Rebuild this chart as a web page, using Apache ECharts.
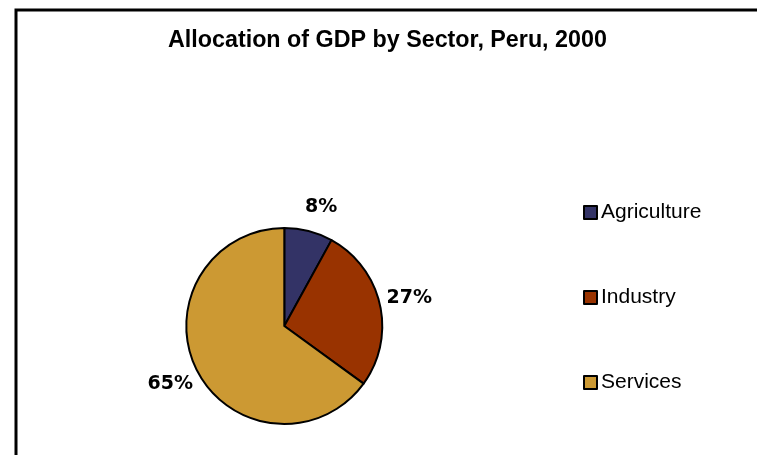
<!DOCTYPE html>
<html>
<head>
<meta charset="utf-8">
<script src="https://cdn.jsdelivr.net/npm/echarts@6/dist/echarts.min.js"></script>
<style>
html,body{margin:0;padding:0;background:#fff;}
#chart{width:757px;height:455px;}
</style>
</head>
<body>
<div id="chart"></div>
<script>
var titleText = 'Allocation of GDP by Sector, Peru, 2000';
var sectors = ['Agriculture', 'Industry', 'Services'];
var shares = [8, 27, 65];
var colors = ['#333366', '#993300', '#CC9933'];

var chart = echarts.init(document.getElementById('chart'), null, {renderer: 'canvas'});

var pieData = sectors.map(function (name, i) {
  return {name: name, value: shares[i], itemStyle: {color: colors[i]}};
});

var option = {
  animation: false,
  backgroundColor: '#fff',
  title: {
    text: titleText,
    left: 168,
    top: 29,
    padding: 0,
    textStyle: {fontFamily: 'Liberation Sans, Arial', fontWeight: 'bold', fontSize: 23.3, color: '#000'}
  },
  legend: {
    orient: 'vertical',
    left: 583,
    top: 202,
    itemGap: 64,
    itemWidth: 13,
    itemHeight: 13,
    icon: 'rect',
    padding: 0,
    data: sectors,
    itemStyle: {borderColor: '#000', borderWidth: 2},
    textStyle: {fontFamily: 'Liberation Sans, Arial', fontSize: 21, color: '#000', padding: [0, 0, 0, -1]}
  },
  graphic: [
    {type: 'polyline', silent: true, shape: {points: [[16, 460], [16, 10], [770, 10]]}, style: {stroke: '#000', lineWidth: 3, fill: null}}
  ],
  series: [
    {
      type: 'pie',
      center: [284.3, 326],
      radius: [0, 98],
      startAngle: 90,
      clockwise: true,
      label: {show: false},
      labelLine: {show: false},
      emphasis: {disabled: true},
      itemStyle: {borderColor: '#000', borderWidth: 2},
      data: pieData
    },
    {
      type: 'pie',
      center: [284.3, 326],
      radius: [0, 250],
      startAngle: 90,
      clockwise: true,
      silent: true,
      legendHoverLink: false,
      emphasis: {disabled: true},
      itemStyle: {color: 'rgba(0,0,0,0)', borderWidth: 0},
      label: {
        show: true,
        position: 'inside',
        formatter: function (p) { return p.value + '%'; },
        fontFamily: 'DejaVu Sans',
        fontWeight: 'bold',
        fontSize: 19,
        color: '#000'
      },
      labelLayout: function (p) {
        return p.dataIndex === 0 ? {dx: 5, dy: 5} : {};
      },
      labelLine: {show: false},
      data: sectors.map(function (name, i) { return {name: name + ' ', value: shares[i]}; })
    }
  ]
};
chart.setOption(option);
</script>
</body>
</html>
